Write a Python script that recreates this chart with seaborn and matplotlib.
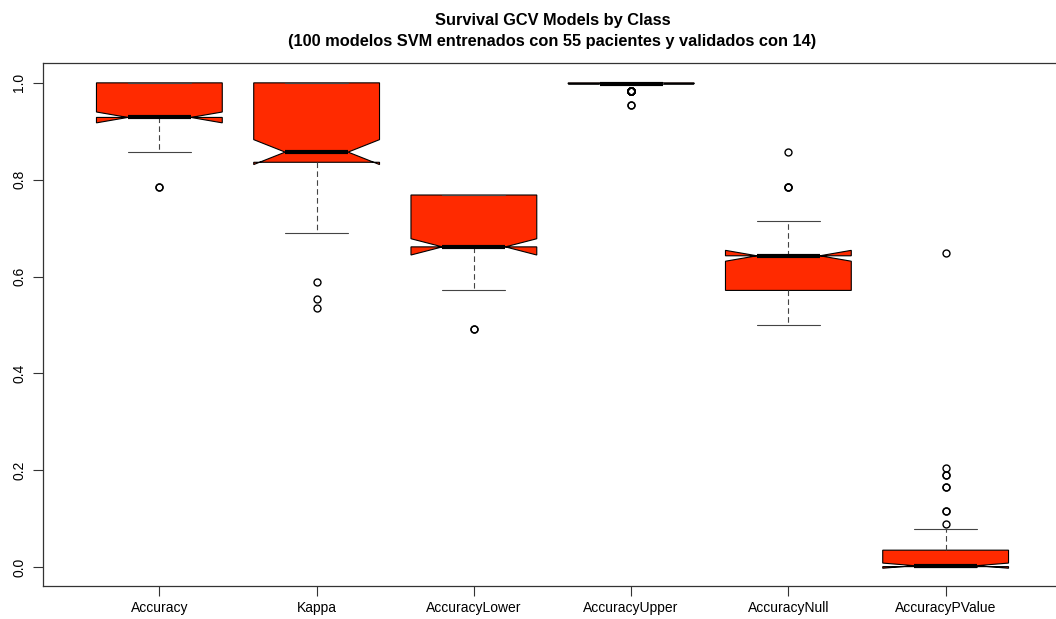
"""
plot.py
notched boxplots of the 100 SVM models (caret confusionMatrix stats)
"""
import numpy as np
import pandas as pd
import matplotlib
matplotlib.use("Agg")
import matplotlib.pyplot as plt
import seaborn as sns

metrics = ["Accuracy", "Kappa", "AccuracyLower", "AccuracyUpper",
           "AccuracyNull", "AccuracyPValue"]

accuracy_vals = [0.7857, 0.8571, 0.9286, 1.0]
accuracy_counts = [2, 15, 40, 43]

kappa_vals = [0.535, 0.554, 0.588, 0.689, 0.75, 0.836, 0.857, 1.0]
kappa_counts = [1, 1, 1, 3, 3, 17, 30, 44]

lower_vals = [0.4920, 0.5719, 0.6613, 0.7684]
lower_counts = [2, 15, 40, 43]

upper_vals = [0.9534, 0.9822, 0.9982, 1.0]
upper_counts = [2, 15, 40, 43]

null_vals = [0.5, 0.5714, 0.6429, 0.7143, 0.7857, 0.8571]
null_counts = [8, 30, 50, 8, 3, 1]

pvalue_vals = [0.0004, 0.001, 0.0021, 0.003, 0.008, 0.018, 0.035, 0.05,
               0.078, 0.088, 0.116, 0.165, 0.19, 0.205, 0.648]
pvalue_counts = [10, 16, 20, 10, 8, 8, 12, 5, 2, 1, 2, 2, 2, 1, 1]

title = ("Survival GCV Models by Class\n"
         "(100 modelos SVM entrenados con 55 pacientes y validados con 14)")

# expand to one row per model
rows = []
for name, vals, counts in zip(
        metrics,
        [accuracy_vals, kappa_vals, lower_vals, upper_vals, null_vals, pvalue_vals],
        [accuracy_counts, kappa_counts, lower_counts, upper_counts, null_counts, pvalue_counts]):
    for v in np.repeat(vals, counts):
        rows.append({"metric": name, "value": v})
df = pd.DataFrame(rows)

sns.set_style("white")
plt.rcParams["font.family"] = ["Liberation Sans", "DejaVu Sans"]
plt.rcParams["text.color"] = "black"
plt.rcParams["xtick.labelcolor"] = "black"
plt.rcParams["ytick.labelcolor"] = "black"

fig = plt.figure(figsize=(10.56, 6.19), dpi=100)
ax = fig.add_axes([43 / 1056, 1 - 586 / 619, (1062 - 43) / 1056, (586 - 63) / 619])

sns.boxplot(data=df, x="metric", y="value", order=metrics, notch=True,
            color="#ff2a00", saturation=1, width=0.8, linecolor="black",
            linewidth=0.8, whis=1.5, ax=ax,
            flierprops=dict(marker="o", markersize=5, markerfacecolor="none",
                            markeredgecolor="black", markeredgewidth=1),
            medianprops=dict(linewidth=3, color="black"),
            whiskerprops=dict(linestyle=(0, (5, 3)), color="#444444"),
            capprops=dict(color="#444444"))

ax.set_xlim(-0.74, 5.74)
ax.set_ylim(-0.039, 1.041)
ax.set_yticks([0.0, 0.2, 0.4, 0.6, 0.8, 1.0])
ax.set_yticklabels(["0.0", "0.2", "0.4", "0.6", "0.8", "1.0"],
                   rotation=90, va="center")
ax.set_xlabel("")
ax.set_ylabel("")
ax.tick_params(axis="both", direction="out", length=7, width=0.8,
               labelsize=10, color="#333333", labelcolor="black",
               bottom=True, left=True)
ax.tick_params(axis="y", pad=5)
ax.tick_params(axis="x", pad=4)
for s in ax.spines.values():
    s.set_visible(True)
    s.set_color("#333333")
    s.set_linewidth(0.9)

ax.set_title(title, fontsize=11.8, fontweight="bold", pad=12, linespacing=1.5,
             color="black")

fig.savefig("out.png", dpi=100)
